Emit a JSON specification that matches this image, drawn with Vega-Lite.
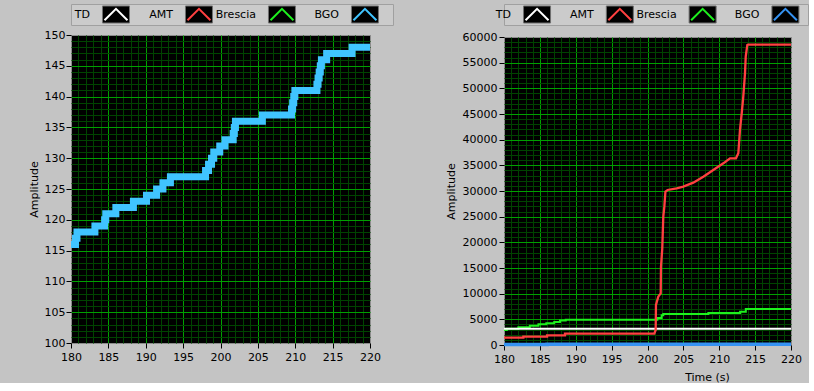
{
  "$schema": "https://vega.github.io/schema/vega-lite/v6.json",
  "padding": {"left": 27, "top": 3, "right": 0, "bottom": 0},
  "background": "#c4c4c4",
  "datasets": {
    "legend": [{"series": "TD"}, {"series": "AMT"}, {"series": "Brescia"}, {"series": "BGO"}],
    "bgo": [
      {"t": 180, "v": 116}, {"t": 180.6, "v": 117}, {"t": 180.8, "v": 118}, {"t": 183.2, "v": 119},
      {"t": 184.5, "v": 120}, {"t": 184.65, "v": 121}, {"t": 186.0, "v": 122}, {"t": 188.35, "v": 123},
      {"t": 190.1, "v": 124}, {"t": 191.45, "v": 125}, {"t": 192.3, "v": 126}, {"t": 193.3, "v": 127},
      {"t": 198.0, "v": 128}, {"t": 198.4, "v": 129}, {"t": 198.8, "v": 130}, {"t": 199.1, "v": 131},
      {"t": 199.9, "v": 132}, {"t": 200.6, "v": 133}, {"t": 201.7, "v": 134}, {"t": 201.85, "v": 135},
      {"t": 202.0, "v": 136}, {"t": 205.6, "v": 137}, {"t": 209.5, "v": 138}, {"t": 209.65, "v": 139},
      {"t": 209.8, "v": 140}, {"t": 209.95, "v": 141}, {"t": 212.9, "v": 142}, {"t": 213.05, "v": 143},
      {"t": 213.2, "v": 144}, {"t": 213.35, "v": 145}, {"t": 213.5, "v": 146}, {"t": 214.2, "v": 147},
      {"t": 217.6, "v": 148}, {"t": 220, "v": 148}
    ],
    "td": [{"t": 180, "v": 3150}, {"t": 220, "v": 3150}],
    "amt": [
      {"t": 180, "v": 1420}, {"t": 182.7, "v": 1420}, {"t": 182.7, "v": 1620}, {"t": 186.0, "v": 1620},
      {"t": 186.0, "v": 1880}, {"t": 188.5, "v": 1880}, {"t": 188.5, "v": 2200}, {"t": 200.95, "v": 2200},
      {"t": 201.14, "v": 2920}, {"t": 201.18, "v": 7790}, {"t": 201.5, "v": 9410}, {"t": 201.84, "v": 10060},
      {"t": 201.88, "v": 15250}, {"t": 202.06, "v": 18830}, {"t": 202.2, "v": 25000}, {"t": 202.35, "v": 27000},
      {"t": 202.5, "v": 29900}, {"t": 202.8, "v": 30200}, {"t": 204.07, "v": 30530}, {"t": 204.99, "v": 30840},
      {"t": 206.38, "v": 31620}, {"t": 207.78, "v": 32790}, {"t": 209.17, "v": 34090}, {"t": 210.57, "v": 35390},
      {"t": 211.5, "v": 36370}, {"t": 212.33, "v": 36370}, {"t": 212.66, "v": 37340}, {"t": 212.89, "v": 41890},
      {"t": 213.13, "v": 45140}, {"t": 213.35, "v": 48380}, {"t": 213.59, "v": 52930}, {"t": 213.69, "v": 56170},
      {"t": 213.91, "v": 58450}, {"t": 214.0, "v": 58500}, {"t": 220, "v": 58500}
    ],
    "brescia": [
      {"t": 180, "v": 2900}, {"t": 180.4, "v": 3150}, {"t": 182, "v": 3450}, {"t": 183.6, "v": 3770},
      {"t": 184.8, "v": 4030}, {"t": 185.9, "v": 4230}, {"t": 187, "v": 4490}, {"t": 187.8, "v": 4750},
      {"t": 188.6, "v": 4940}, {"t": 201.37, "v": 5270}, {"t": 201.97, "v": 5790}, {"t": 202.2, "v": 6050},
      {"t": 208.48, "v": 6240}, {"t": 212.9, "v": 6500}, {"t": 213.7, "v": 7020}, {"t": 220, "v": 7020}
    ]
  },
  "resolve": {"scale": {"x": "independent", "y": "independent", "color": "independent"}},
  "spacing": 50,
  "hconcat": [
    {
      "spacing": 2,
      "resolve": {"scale": {"x": "independent", "y": "independent", "color": "independent"}},
      "vconcat": [
        {
          "width": 322,
          "height": 21,
          "view": {"fill": "#cbcbcb", "stroke": "#a0a0a0"},
          "data": {"name": "legend"},
          "encoding": {
            "x": {"field": "series", "type": "nominal", "sort": null,
                  "scale": {"type": "point", "domain": ["TD", "AMT", "Brescia", "BGO"], "padding": 0.44, "align": 0.616},
                  "axis": null}
          },
          "layer": [
            {"mark": {"type": "text", "align": "right", "dx": -26, "fontSize": 11, "font": "DejaVu Sans", "color": "#000000"},
             "encoding": {"text": {"field": "series", "type": "nominal"}}},
            {"mark": {"type": "point", "shape": "M-1,-0.63H1V0.63H-1Z", "size": 729, "filled": true, "fill": "#000000", "stroke": "#707070", "strokeWidth": 1, "opacity": 1}},
            {"mark": {"type": "point", "shape": "M-0.85,0.42L0,-0.42L0.85,0.42", "size": 729, "filled": false, "strokeWidth": 2, "opacity": 1},
             "encoding": {"color": {"field": "series", "type": "nominal",
               "scale": {"domain": ["TD", "AMT", "Brescia", "BGO"], "range": ["#ffffff", "#ff4040", "#1ef01e", "#40c4ff"]},
               "legend": null}}}
          ]
        },
        {
          "width": 299,
          "height": 308,
          "view": {"fill": "#000000", "stroke": "#8c8c8c"},
          "data": {"name": "bgo"},
          "mark": {"type": "line", "interpolate": "step-after", "color": "#40c4ff", "strokeWidth": 7, "clip": true},
          "encoding": {
            "x": {"field": "t", "type": "quantitative",
                  "scale": {"domain": [180, 220], "nice": false, "zero": false},
                  "axis": {"title": null, "tickCount": 40, "labelPadding": 3,
                           "labelExpr": "datum.value % 5 === 0 ? datum.label : ''",
                           "gridColor": {"condition": {"test": "datum.value % 5 === 0", "value": "#00a000"}, "value": "#004400"},
                           "gridOpacity": {"condition": {"test": "datum.value === 180 || datum.value === 220", "value": 0}, "value": 1},
                           "tickOpacity": {"condition": {"test": "datum.value % 5 === 0", "value": 1}, "value": 0}}},
            "y": {"field": "v", "type": "quantitative",
                  "scale": {"domain": [100, 150], "nice": false, "zero": false},
                  "axis": {"title": "Amplitude", "tickCount": 50, "labelPadding": 1, "titlePadding": 5,
                           "labelExpr": "datum.value % 5 === 0 ? datum.label : ''",
                           "gridColor": {"condition": {"test": "datum.value % 5 === 0", "value": "#00a000"}, "value": "#004400"},
                           "gridOpacity": {"condition": {"test": "datum.value === 100 || datum.value === 150", "value": 0}, "value": 1},
                           "tickOpacity": {"condition": {"test": "datum.value % 5 === 0", "value": 1}, "value": 0}}}
          }
        }
      ]
    },
    {
      "spacing": 4,
      "resolve": {"scale": {"x": "independent", "y": "independent", "color": "independent"}},
      "vconcat": [
        {
          "width": 304,
          "height": 21,
          "view": {"fill": "#cbcbcb", "stroke": "#a0a0a0"},
          "data": {"name": "legend"},
          "encoding": {
            "x": {"field": "series", "type": "nominal", "sort": null,
                  "scale": {"type": "point", "domain": ["TD", "AMT", "Brescia", "BGO"], "padding": 0.336, "align": 0.594},
                  "axis": null}
          },
          "layer": [
            {"mark": {"type": "text", "align": "right", "dx": -26, "fontSize": 11, "font": "DejaVu Sans", "color": "#000000"},
             "encoding": {"text": {"field": "series", "type": "nominal"}}},
            {"mark": {"type": "point", "shape": "M-1,-0.63H1V0.63H-1Z", "size": 729, "filled": true, "fill": "#000000", "stroke": "#707070", "strokeWidth": 1, "opacity": 1}},
            {"mark": {"type": "point", "shape": "M-0.85,0.42L0,-0.42L0.85,0.42", "size": 729, "filled": false, "strokeWidth": 2, "opacity": 1},
             "encoding": {"color": {"field": "series", "type": "nominal",
               "scale": {"domain": ["TD", "AMT", "Brescia", "BGO"], "range": ["#ffffff", "#ff4040", "#1ef01e", "#3592f2"]},
               "legend": null}}}
          ]
        },
        {
          "width": 287,
          "height": 308,
          "view": {"fill": "#000000", "stroke": "#8c8c8c"},
          "encoding": {
            "x": {"field": "t", "type": "quantitative",
                  "scale": {"domain": [180, 220], "nice": false, "zero": false},
                  "axis": {"title": "Time (s)", "titleX": 203, "titlePadding": 7, "tickCount": 40, "labelPadding": 3,
                           "labelExpr": "datum.value % 5 === 0 ? datum.label : ''",
                           "gridColor": {"condition": {"test": "datum.value % 5 === 0", "value": "#00a000"}, "value": "#004400"},
                           "gridOpacity": {"condition": {"test": "datum.value === 180 || datum.value === 220", "value": 0}, "value": 1},
                           "tickOpacity": {"condition": {"test": "datum.value % 5 === 0", "value": 1}, "value": 0}}},
            "y": {"field": "v", "type": "quantitative",
                  "scale": {"domain": [0, 60000], "nice": false, "zero": false},
                  "axis": {"title": "Amplitude", "tickCount": 60, "format": "d", "labelPadding": 2, "titlePadding": 6,
                           "labelExpr": "datum.value % 5000 === 0 ? datum.label : ''",
                           "gridColor": {"condition": {"test": "datum.value % 5000 === 0", "value": "#00a000"}, "value": "#004400"},
                           "gridOpacity": {"condition": {"test": "datum.value === 0 || datum.value === 60000", "value": 0}, "value": 1},
                           "tickOpacity": {"condition": {"test": "datum.value % 5000 === 0", "value": 1}, "value": 0}}},
            "order": {"value": null}
          },
          "layer": [
            {"data": {"name": "brescia"}, "mark": {"type": "line", "interpolate": "step-after", "color": "#1ef01e", "strokeWidth": 2}},
            {"data": {"name": "td"}, "mark": {"type": "line", "color": "#ffffff", "strokeWidth": 2}},
            {"data": {"name": "amt"}, "mark": {"type": "line", "color": "#ff4040", "strokeWidth": 2.3}},
            {"data": {"name": "bgo"}, "mark": {"type": "line", "interpolate": "step-after", "color": "#3592f2", "strokeWidth": 3.5}}
          ]
        }
      ]
    }
  ],
  "config": {
    "font": "DejaVu Sans",
    "axis": {"labelFont": "DejaVu Sans", "labelFontSize": 11, "labelColor": "#000000",
             "titleFont": "DejaVu Sans", "titleFontSize": 11, "titleFontWeight": "normal", "titleColor": "#000000",
             "domain": false, "tickColor": "#000000", "tickSize": 5, "grid": true, "gridWidth": 1,
             "labelOverlap": false, "labelFlush": false, "labelBound": false}
  }
}
